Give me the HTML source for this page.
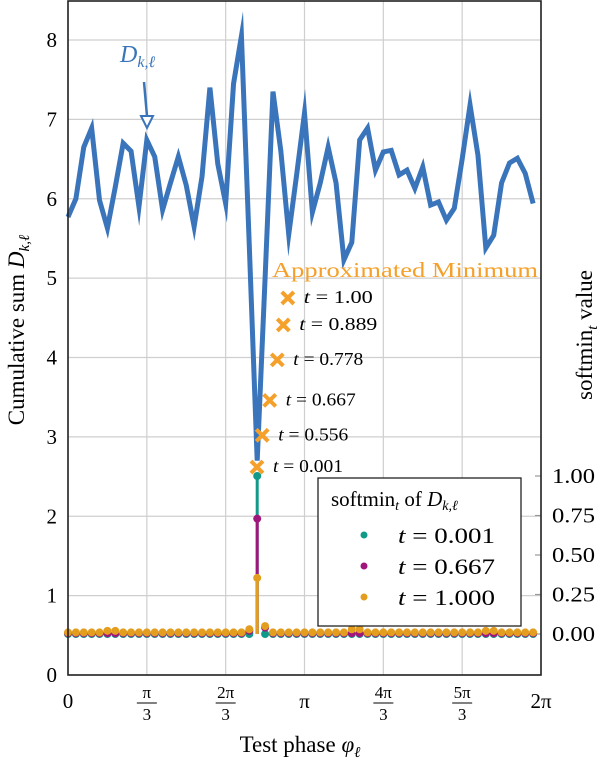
<!DOCTYPE html>
<html><head><meta charset="utf-8"><style>
html,body{margin:0;padding:0;background:#fff;}
svg{display:block;font-family:"Liberation Serif","DejaVu Serif",serif;}
</style></head><body>
<svg id="chart" width="600" height="760" xmlns="http://www.w3.org/2000/svg"></svg>
<script>
const cumSum = [5.77,6.0,6.65,6.89,5.98,5.63,6.15,6.7,6.6,5.9,6.74,6.53,5.86,6.2,6.53,6.17,5.65,6.28,7.4,6.44,5.94,7.45,8.05,5.4,2.7,5.0,7.35,6.6,5.55,6.3,7.08,5.83,6.2,6.65,6.2,5.23,5.45,6.74,6.89,6.36,6.59,6.61,6.3,6.36,6.13,6.4,5.92,5.96,5.73,5.88,6.5,7.18,6.55,5.38,5.54,6.2,6.45,6.51,6.32,5.94];
const phaseStep = 2*Math.PI/60;
const minPhases = [2.51,2.58,2.68,2.78,2.86,2.92];
const minValues = [2.62,3.02,3.46,3.97,4.41,4.75];
const minLabels = ["t = 0.001","t = 0.556","t = 0.667","t = 0.778","t = 0.889","t = 1.00"];
const softTeal = Array(60).fill(0); softTeal[24]=1.0;
const softMag = Array(60).fill(0.005); softMag[24]=0.73; softMag[23]=0.02; softMag[25]=0.04;
const softOrange = [0.01,0.01,0.01,0.01,0.01,0.02,0.02,0.01,0.01,0.01,0.01,0.01,0.01,0.01,0.01,0.01,0.01,0.01,0.01,0.01,0.01,0.01,0.01,0.03,0.355,0.05,0.01,0.01,0.01,0.01,0.01,0.01,0.01,0.01,0.01,0.01,0.03,0.03,0.01,0.01,0.01,0.01,0.01,0.01,0.01,0.01,0.01,0.01,0.01,0.01,0.01,0.01,0.01,0.02,0.02,0.01,0.01,0.01,0.01,0.01];
const yTicks = [0,1,2,3,4,5,6,7,8];
const rTicks = [0,0.25,0.5,0.75,1.0];
const rLabels = ["0.00","0.25","0.50","0.75","1.00"];
const xTicks = [0,1,2,3,4,5,6];
const xNum = ["0","π","2π","π","4π","5π","2π"];
const xFrac = [false,true,true,false,true,true,false];

const L=68,R=541,T=1,B=675;
const X=p=>L+p/(2*Math.PI)*(R-L);
const Y=v=>B-v*(B-40)/8;
const YR=v=>634-v*158;
const svg=document.getElementById('chart');
const NS="http://www.w3.org/2000/svg";
function mk(tag,attrs,parent){const e=document.createElementNS(NS,tag);for(const k in attrs)e.setAttribute(k,attrs[k]);(parent||svg).appendChild(e);return e;}

// grid
yTicks.forEach(v=>{const g=mk('line',{x1:L,x2:R,y1:Y(v),y2:Y(v),stroke:'#cfcfcf','stroke-width':1.2});


const t=mk('text',{x:57,y:Y(v)+7,'text-anchor':'end','font-size':21});t.textContent=v;

});
xTicks.forEach(i=>{const x=X(i*Math.PI/3);
const g=mk('line',{x1:x,x2:x,y1:T,y2:B,stroke:'#cfcfcf','stroke-width':1.2});


if(xFrac[i]){const t=mk('text',{x:x,y:698,'text-anchor':'middle','font-size':17});t.textContent=xNum[i];


mk('line',{x1:x-10,x2:x+10,y1:703,y2:703,stroke:'#000','stroke-width':1});
const d=mk('text',{x:x,y:720,'text-anchor':'middle','font-size':17});d.textContent='3';}
else{const t=mk('text',{x:x,y:708,'text-anchor':'middle','font-size':21});t.textContent=xNum[i];

}});
// right ticks
rTicks.forEach((v,i)=>{mk('line',{x1:R-6,x2:R,y1:YR(v),y2:YR(v),stroke:'#999','stroke-width':1.2});
const t=mk('text',{x:552,y:YR(v)+7,'font-size':21,textLength:43,lengthAdjust:'spacingAndGlyphs'});t.textContent=rLabels[i];

});

// blue line
const pts=cumSum.map((v,i)=>X(i*phaseStep)+','+Y(v)).join(' ');
const line=mk('polyline',{points:pts,fill:'none',stroke:'#3a75bb','stroke-width':5,'stroke-linejoin':'miter','stroke-miterlimit':10});



// stems & dots
const series=[[softTeal,'#11998a'],[softMag,'#a0177c'],[softOrange,'#e39e1f']];
series.forEach(([arr,c])=>{arr.forEach((v,i)=>{if(v>0.1){const s=mk('line',{x1:X(i*phaseStep),x2:X(i*phaseStep),y1:YR(0),y2:YR(v),stroke:c,'stroke-width':3});

}});});
series.forEach(([arr,c])=>{arr.forEach((v,i)=>{const d=mk('circle',{cx:X(i*phaseStep),cy:YR(v),r:4,fill:c});

});});

// crosses
const labW=[70,70,70,70,78,69];
minPhases.forEach((p,i)=>{const x=X(p),y=Y(minValues[i]);
const g=mk('path',{d:`M${x-6},${y-6}L${x+6},${y+6}M${x-6},${y+6}L${x+6},${y-6}`,stroke:'#f5a02a','stroke-width':4});


const t=mk('text',{x:x+16,y:y+5,'font-size':18,textLength:labW[i],lengthAdjust:'spacingAndGlyphs'});
t.innerHTML='<tspan font-style="italic">t</tspan> = '+minLabels[i].slice(4);

});

// frame
const f=mk('rect',{x:L,y:T,width:R-L,height:B-T,fill:'none',stroke:'#222','stroke-width':1.6});



// annotations
let a=mk('text',{x:272,y:277,fill:'#f5a02a','font-size':21,textLength:266,lengthAdjust:'spacingAndGlyphs'});a.textContent='Approximated Minimum';


a=mk('text',{x:120,y:62,fill:'#3a75bb','font-size':24,'font-style':'italic'});a.innerHTML='D<tspan font-size="16" dy="5">k,ℓ</tspan>';


mk('line',{x1:144,y1:82,x2:147,y2:116,stroke:'#3a75bb','stroke-width':2.5});
mk('path',{d:'M141,116 L153,116 L147,128 Z',fill:'#fff',stroke:'#3a75bb','stroke-width':2});

// axis titles
a=mk('text',{x:300,y:752,'text-anchor':'middle','font-size':23});a.innerHTML='Test phase <tspan font-style="italic">φ</tspan><tspan font-size="15" dy="5" font-style="italic">ℓ</tspan>';


a=mk('text',{x:0,y:0,'text-anchor':'middle','font-size':23,transform:'translate(24,330) rotate(-90)'});a.innerHTML='Cumulative sum <tspan font-style="italic">D</tspan><tspan font-size="15" dy="5" font-style="italic">k,ℓ</tspan>';


a=mk('text',{x:0,y:0,'text-anchor':'middle','font-size':23,transform:'translate(592,335) rotate(-90)'});a.innerHTML='softmin<tspan font-size="15" dy="5" font-style="italic">t</tspan><tspan dy="-5"> value</tspan>';



// legend
const lg=mk('g',{});


mk('rect',{x:318,y:478,width:203,height:148,fill:'#fff',stroke:'#222','stroke-width':1.3},lg);
a=mk('text',{x:331,y:506,'font-size':21},lg);a.innerHTML='softmin<tspan font-size="14" dy="4" font-style="italic">t</tspan><tspan dy="-4"> of </tspan><tspan font-style="italic">D</tspan><tspan font-size="14" dy="4" font-style="italic">k,ℓ</tspan>';
const legT=["0.001","0.667","1.000"];
series.forEach(([arr,c],i)=>{const y=535+i*31;
const d=mk('circle',{cx:364,cy:y,r:3.5,fill:c},lg);


const t=mk('text',{x:398,y:y+8,'font-size':22,textLength:97,lengthAdjust:'spacingAndGlyphs'},lg);t.innerHTML='<tspan font-style="italic">t</tspan> = '+legT[i];

});
</script>
</body></html>
